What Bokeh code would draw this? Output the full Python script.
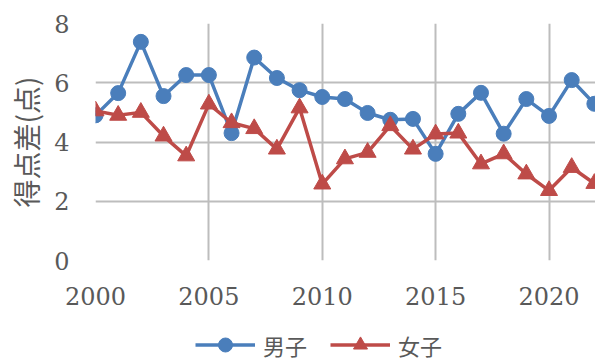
from bokeh.plotting import figure
from bokeh.layouts import column
from bokeh.models import Range1d, FixedTicker, Legend, LegendItem
from bokeh.embed import file_html
from bokeh.resources import INLINE

years = list(range(2000, 2023))
boys = [4.9, 5.65, 7.38, 5.55, 6.26, 6.26, 4.3, 6.85, 6.16, 5.75, 5.52, 5.45,
        4.98, 4.75, 4.78, 3.6, 4.95, 5.66, 4.28, 5.45, 4.88, 6.09, 5.29]
girls = [5.05, 4.9, 5.0, 4.2, 3.53, 5.28, 4.65, 4.45, 3.76, 5.15, 2.58, 3.43,
         3.65, 4.55, 3.76, 4.27, 4.3, 3.26, 3.6, 2.92, 2.36, 3.14, 2.6]
x_ticks = [2000, 2005, 2010, 2015, 2020]
y_ticks = [0, 2, 4, 6, 8]
series_names = ["男子", "女子"]
ylabel = "得点差(点)"

BLUE = "#4A7EBB"
RED = "#BE4B48"
GRID = "#BDBDBD"
TXT = "#595959"

p = figure(width=595, height=320, output_backend="svg", toolbar_location=None,
           x_range=Range1d(2000, 2022.05), y_range=Range1d(0, 8),
           min_border_left=95, min_border_right=0, min_border_top=23,
           min_border_bottom=60)
p.outline_line_color = None
p.background_fill_color = "white"
p.border_fill_color = "white"

for ax in (p.xaxis[0], p.yaxis[0]):
    ax.axis_line_color = None
    ax.major_tick_line_color = None
    ax.minor_tick_line_color = None
    ax.major_label_text_font = "DejaVu Serif"
    ax.major_label_text_color = TXT
    ax.major_label_text_font_size = "24px"

p.xaxis.ticker = FixedTicker(ticks=x_ticks)
p.yaxis.ticker = FixedTicker(ticks=y_ticks)
p.xaxis.major_label_standoff = 20
p.yaxis.major_label_standoff = 20

p.yaxis.axis_label = ylabel
p.yaxis.axis_label_text_font = "Noto Sans CJK JP"
p.yaxis.axis_label_text_font_style = "normal"
p.yaxis.axis_label_text_font_size = "28px"
p.yaxis.axis_label_text_color = TXT
p.yaxis.axis_label_standoff = 5

p.xgrid.ticker = FixedTicker(ticks=x_ticks)
p.ygrid.ticker = FixedTicker(ticks=y_ticks)
for g in (p.xgrid[0], p.ygrid[0]):
    g.grid_line_color = GRID
    g.grid_line_width = 2

p.line(years, boys, line_color=BLUE, line_width=3.5)
p.scatter(years, boys, marker="circle", size=15, fill_color=BLUE, line_color=BLUE)
p.line(years, girls, line_color=RED, line_width=3.5)
p.scatter(years, girls, marker="triangle", size=17, fill_color=RED, line_color=RED)

# legend strip below the chart (series drawn off-range, only used for legend glyphs)
q = figure(width=595, height=41, output_backend="svg", toolbar_location=None,
           x_range=Range1d(0, 1), y_range=Range1d(0, 1),
           x_axis_type=None, y_axis_type=None,
           min_border_left=0, min_border_right=0, min_border_top=0,
           min_border_bottom=0)
q.outline_line_color = None
q.xgrid.visible = False
q.ygrid.visible = False
ql1 = q.line(years, boys, line_color=BLUE, line_width=3.5)
qm1 = q.scatter(years, boys, marker="circle", size=15, fill_color=BLUE, line_color=BLUE)
ql2 = q.line(years, girls, line_color=RED, line_width=3.5)
qm2 = q.scatter(years, girls, marker="triangle", size=17, fill_color=RED, line_color=RED)

legend = Legend(items=[LegendItem(label=series_names[0], renderers=[ql1, qm1]),
                       LegendItem(label=series_names[1], renderers=[ql2, qm2])],
                orientation="horizontal", location=(100, -1),
                glyph_width=60, glyph_height=35, label_standoff=8, spacing=23,
                padding=0, margin=0, border_line_color=None,
                background_fill_alpha=0,
                label_text_font="Noto Sans CJK JP", label_text_font_size="22px",
                label_text_color=TXT)
q.add_layout(legend, "center")

layout = column(p, q, spacing=0)
open("out.html", "w").write(file_html(layout, INLINE))
